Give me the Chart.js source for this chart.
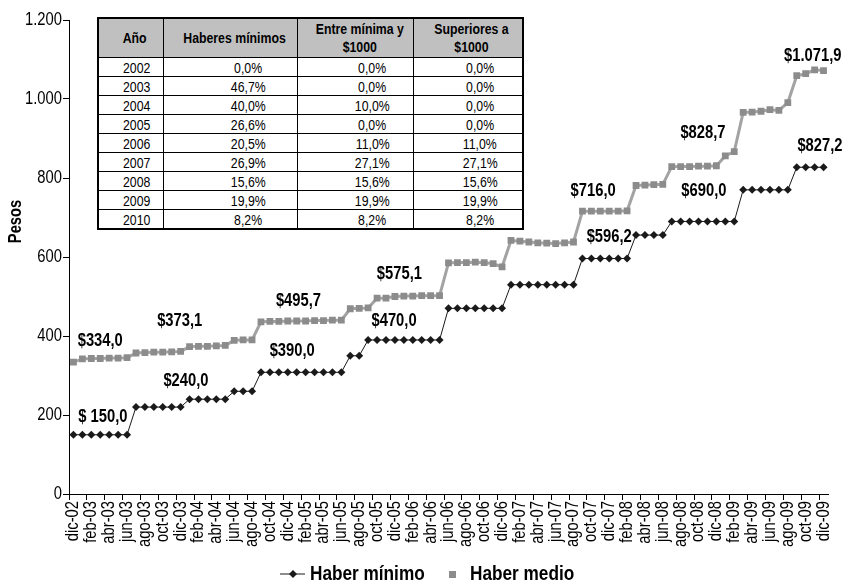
<!DOCTYPE html>
<html lang="es">
<head>
<meta charset="utf-8">
<script src="https://cdn.jsdelivr.net/npm/chart.js@4.4.1/dist/chart.umd.min.js"></script>
<style>
  body { margin: 0; background: #fff; }
  #wrap { position: relative; width: 847px; height: 583px; }
  #grafico { position: absolute; left: 0; top: 0; }
  #tabla {
    position: absolute; left: 97px; top: 17px;
    border-collapse: collapse; border: 2px solid #000;
    font-family: 'Liberation Sans', Arial, sans-serif;
    font-size: 15px; color: #000; background: #fff; table-layout: fixed;
  }
  #tabla td, #tabla th { border: 1px solid #000; padding: 0; height: 18px; line-height: 17px; text-align: center; white-space: nowrap; }
  #tabla th { background: #c0c0c0; height: 38px; font-weight: bold; line-height: 18px; padding-left: 8px; }
  #tabla span { display: inline-block; transform: scaleX(0.82); }
  #tabla td.c1 { padding-left: 12px; }
  #tabla td.c2 { padding-left: 36px; }
  #tabla td.c3 { padding-left: 34px; }
  #tabla td.c4 { padding-left: 24px; }
</style>
</head>
<body>
<div id="wrap">
  <canvas id="grafico" width="847" height="583"></canvas>
  <table id="tabla">
    <colgroup><col style="width:65px"><col style="width:127px"><col style="width:114px"><col style="width:109px"></colgroup>
    <thead id="cabecera"></thead>
    <tbody id="cuerpo"></tbody>
  </table>
</div>
<script>
const FUENTE = "'Liberation Sans', Arial, sans-serif";
const ANGOSTO = 0.82; // imita Arial Narrow

// meses de dic-02 a dic-09
const meses = [
  'dic-02',
  'ene-03','feb-03','mar-03','abr-03','may-03','jun-03','jul-03','ago-03','sep-03','oct-03','nov-03','dic-03',
  'ene-04','feb-04','mar-04','abr-04','may-04','jun-04','jul-04','ago-04','sep-04','oct-04','nov-04','dic-04',
  'ene-05','feb-05','mar-05','abr-05','may-05','jun-05','jul-05','ago-05','sep-05','oct-05','nov-05','dic-05',
  'ene-06','feb-06','mar-06','abr-06','may-06','jun-06','jul-06','ago-06','sep-06','oct-06','nov-06','dic-06',
  'ene-07','feb-07','mar-07','abr-07','may-07','jun-07','jul-07','ago-07','sep-07','oct-07','nov-07','dic-07',
  'ene-08','feb-08','mar-08','abr-08','may-08','jun-08','jul-08','ago-08','sep-08','oct-08','nov-08','dic-08',
  'ene-09','feb-09','mar-09','abr-09','may-09','jun-09','jul-09','ago-09','sep-09','oct-09','nov-09','dic-09'
];

const haberMinimo = [
  150, 150, 150, 150, 150, 150, 150,
  220, 220, 220, 220, 220, 220,
  240, 240, 240, 240, 240,
  260, 260, 260,
  308, 308, 308, 308, 308, 308, 308, 308, 308, 308,
  350, 350,
  390, 390, 390, 390, 390, 390, 390, 390, 390,
  470, 470, 470, 470, 470, 470, 470,
  530, 530, 530, 530, 530, 530, 530, 530,
  596.2, 596.2, 596.2, 596.2, 596.2, 596.2,
  655.5, 655.5, 655.5, 655.5,
  690, 690, 690, 690, 690, 690, 690, 690,
  770, 770, 770, 770, 770, 770,
  827.2, 827.2, 827.2, 827.2
];

const haberMedio = [
  334.0, 342, 343, 343, 344, 344, 345,
  357, 358, 359, 359, 360, 361,
  373.1, 374, 374, 375, 376,
  389, 390, 390,
  436, 437, 437, 438, 438, 438, 439, 439, 440, 440,
  469, 470, 471,
  495.7, 496, 500, 501, 501, 502, 502, 502,
  585, 586, 586, 587, 586, 583, 575.1,
  642, 640, 638, 636, 635, 634, 636, 638,
  716.0, 716, 716, 716, 716, 717,
  781, 782, 783, 784,
  828.7, 829, 829, 830, 830, 831,
  856, 867,
  966, 967, 969, 973, 971,
  991,
  1059, 1064, 1074, 1071.9
];

const pasosY = [0, 200, 400, 600, 800, 1000, 1200];

// etiquetas de valores: [texto, posicion en meses, valor en pesos]
const etiquetas = [
  ['$334,0', 3.0, 388],
  ['$ 150,0', 3.3, 195],
  ['$373,1', 11.9, 438],
  ['$240,0', 12.6, 286],
  ['$495,7', 25.2, 489],
  ['$390,0', 24.5, 362],
  ['$575,1', 36.5, 557],
  ['$470,0', 35.9, 438],
  ['$716,0', 58.2, 768],
  ['$596,2', 60.0, 651],
  ['$828,7', 70.5, 915],
  ['$690,0', 70.6, 766],
  ['$827,2', 83.6, 880],
  ['$1.071,9', 82.8, 1110]
];

// tabla de aumentos
const tablaCabecera = ['Año', 'Haberes mínimos', 'Entre mínima y<br>$1000', 'Superiores a<br>$1000'];
const tablaAnios = ['2002', '2003', '2004', '2005', '2006', '2007', '2008', '2009', '2010'];
const tablaMinimos = ['0,0%', '46,7%', '40,0%', '26,6%', '20,5%', '26,9%', '15,6%', '19,9%', '8,2%'];
const tablaEntre = ['0,0%', '0,0%', '10,0%', '0,0%', '11,0%', '27,1%', '15,6%', '19,9%', '8,2%'];
const tablaSuperiores = ['0,0%', '0,0%', '0,0%', '0,0%', '11,0%', '27,1%', '15,6%', '19,9%', '8,2%'];

const sp = t => '<span>' + t + '</span>';
document.getElementById('cabecera').innerHTML =
  '<tr>' + tablaCabecera.map(t => '<th>' + sp(t) + '</th>').join('') + '</tr>';
document.getElementById('cuerpo').innerHTML = tablaAnios.map((a, i) =>
  '<tr><td class="c1">' + sp(a) + '</td><td class="c2">' + sp(tablaMinimos[i]) +
  '</td><td class="c3">' + sp(tablaEntre[i]) + '</td><td class="c4">' + sp(tablaSuperiores[i]) + '</td></tr>'
).join('');

function textoAngosto(ctx, txt, x, y, rot, escala) {
  ctx.save();
  ctx.translate(x, y);
  if (rot) ctx.rotate(rot);
  ctx.scale(escala || ANGOSTO, 1);
  ctx.fillText(txt, 0, 0);
  ctx.restore();
}

const textos = {
  id: 'textos',
  afterDatasetsDraw(chart) {
    const ctx = chart.ctx;
    const xs = chart.scales.x, ys = chart.scales.y;
    const area = chart.chartArea;
    ctx.save();
    ctx.fillStyle = '#000';

    // rotulos del eje Y
    ctx.font = '18px ' + FUENTE;
    ctx.textAlign = 'right';
    ctx.textBaseline = 'middle';
    pasosY.forEach(v => textoAngosto(ctx, v.toLocaleString('de-DE'), area.left - 7, ys.getPixelForValue(v)));

    // rotulos del eje X, cada dos meses
    ctx.font = '18px ' + FUENTE;
    meses.forEach((m, i) => {
      if (i % 2 === 0) textoAngosto(ctx, m, xs.getPixelForValue(i), area.bottom + 7, -Math.PI / 2);
    });

    // etiquetas de valores
    ctx.font = 'bold 18px ' + FUENTE;
    ctx.textAlign = 'center';
    etiquetas.forEach(e => textoAngosto(ctx, e[0], xs.getPixelForValue(e[1]), ys.getPixelForValue(e[2])));

    // titulo del eje
    textoAngosto(ctx, 'Pesos', 16, area.top + (area.bottom - area.top) * 0.425, -Math.PI / 2);

    // leyenda
    const ly = 574;
    ctx.strokeStyle = '#1a1a1a';
    ctx.lineWidth = 1;
    ctx.beginPath();
    ctx.moveTo(280, ly); ctx.lineTo(305, ly);
    ctx.stroke();
    ctx.fillStyle = '#1a1a1a';
    ctx.beginPath();
    ctx.moveTo(289, ly); ctx.lineTo(293, ly - 4); ctx.lineTo(297, ly); ctx.lineTo(293, ly + 4);
    ctx.closePath();
    ctx.fill();
    ctx.fillStyle = '#8c8c8c';
    ctx.fillRect(449, ly - 3, 7, 7);
    ctx.fillStyle = '#000';
    ctx.font = 'bold 20px ' + FUENTE;
    ctx.textAlign = 'left';
    textoAngosto(ctx, 'Haber mínimo', 310, ly, 0, 0.86);
    textoAngosto(ctx, 'Haber medio', 470, ly, 0, 0.86);
    ctx.restore();
  }
};

const chart = new Chart(document.getElementById('grafico'), {
  type: 'line',
  data: {
    labels: meses,
    datasets: [
      {
        label: 'Haber mínimo',
        data: haberMinimo,
        borderColor: '#1a1a1a',
        backgroundColor: '#1a1a1a',
        borderWidth: 1,
        pointStyle: 'rectRot',
        pointRadius: 4,
        pointBorderWidth: 0,
        tension: 0
      },
      {
        label: 'Haber medio',
        data: haberMedio,
        borderColor: '#a3a3a3',
        backgroundColor: '#8c8c8c',
        borderWidth: 3,
        pointStyle: 'rect',
        pointRadius: 4.8,
        pointBorderWidth: 0,
        tension: 0
      }
    ]
  },
  options: {
    responsive: false,
    animation: false,
    layout: { padding: { top: 20, right: 19, left: 0, bottom: 0 } },
    plugins: {
      legend: { display: false },
      tooltip: { enabled: false }
    },
    scales: {
      x: {
        offset: true,
        grid: {
          offset: true,
          drawOnChartArea: false,
          tickLength: 6,
          color: c => c.index % 2 === 0 ? '#000' : 'rgba(0,0,0,0)'
        },
        border: { color: '#000', width: 1 },
        ticks: { display: false, autoSkip: false },
        afterFit: s => { s.height = 89; }
      },
      y: {
        min: 0,
        max: 1200,
        ticks: { display: false, stepSize: 200 },
        grid: { drawOnChartArea: false, tickLength: 6, color: '#000' },
        border: { color: '#000', width: 1 },
        afterFit: s => { s.width = 69; }
      }
    }
  },
  plugins: [textos]
});
</script>
</body>
</html>
